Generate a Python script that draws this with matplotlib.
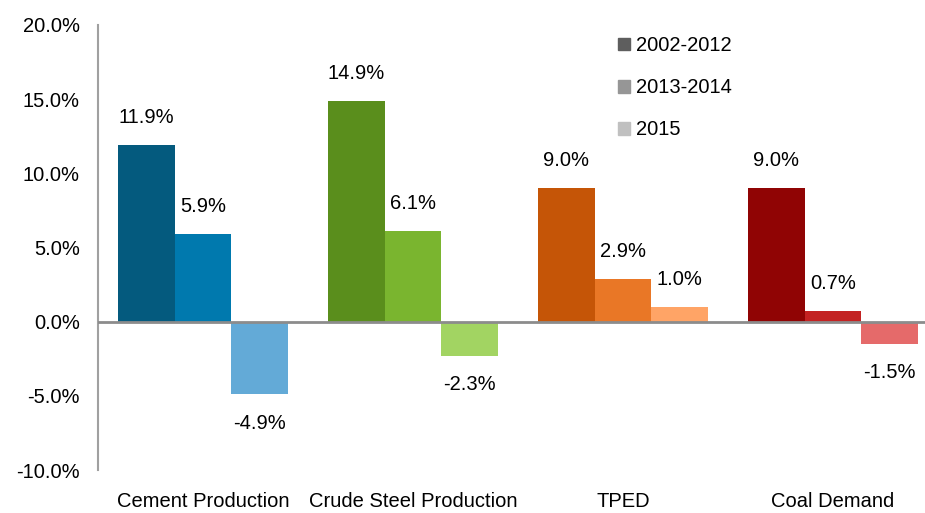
import numpy as np
import matplotlib.pyplot as plt

plt.rcParams['font.family'] = ['Liberation Sans', 'DejaVu Sans']

categories = ["Cement Production", "Crude Steel Production", "TPED", "Coal Demand"]
periods = ["2002-2012", "2013-2014", "2015"]
v_2002_2012 = [11.9, 14.9, 9.0, 9.0]
v_2013_2014 = [5.9, 6.1, 2.9, 0.7]
v_2015 = [-4.9, -2.3, 1.0, -1.5]
series = [v_2002_2012, v_2013_2014, v_2015]

# colour per category, dark -> light for each period
colors = [
    ["#045A7E", "#0079AE", "#63AAD7"],
    ["#5A8E1C", "#7AB52F", "#A2D462"],
    ["#C55507", "#E97726", "#FFA466"],
    ["#900404", "#C32222", "#E56A6A"],
]
legend_colors = ["#5E5E5E", "#969696", "#C0C0C0"]

fig = plt.figure(figsize=(9.25, 5.13), dpi=100)
ax = fig.add_axes([98 / 925, 43 / 513, 840 / 925, 445 / 513])

x = np.arange(len(categories))
w = 0.27
for j, vals in enumerate(series):
    pos = x + (j - 1) * w
    cols = [colors[i][j] for i in range(len(categories))]
    ax.bar(pos, vals, width=w, color=cols, zorder=2)
    for xp, v in zip(pos, vals):
        if v >= 0:
            ax.annotate(f"{v:.1f}%", (xp, v), xytext=(0, 13), textcoords="offset points",
                        ha="center", va="bottom", fontsize=14.5)
        else:
            ax.annotate(f"{v:.1f}%", (xp, v), xytext=(0, -14), textcoords="offset points",
                        ha="center", va="top", fontsize=14.5)

ax.axhline(0, color="#8C8C8C", lw=2, zorder=3)
ax.set_xlim(-0.5, 3.5)
ax.set_ylim(-10, 20)
ax.set_yticks(np.arange(-10, 21, 5))
ax.set_yticklabels([f"{t:.1f}%" for t in np.arange(-10, 21, 5)])
ax.set_xticks(x)
ax.set_xticklabels(categories)
ax.tick_params(axis="y", length=0, pad=13, labelsize=14.5)
ax.tick_params(axis="x", length=0, pad=16, labelsize=14.5)
for s in ["top", "right", "bottom"]:
    ax.spines[s].set_visible(False)
ax.spines["left"].set_color("#A0A0A0")
ax.spines["left"].set_linewidth(1.5)

handles = [plt.Rectangle((0, 0), 1, 1, color=c) for c in legend_colors]
fig.legend(handles, periods, loc="upper left", bbox_to_anchor=(600 / 925, 1 - 18 / 513),
           frameon=False, fontsize=14.5, handlelength=0.6, handleheight=0.6,
           handletextpad=0.3, labelspacing=1.15)

fig.savefig("out.png", dpi=100)
